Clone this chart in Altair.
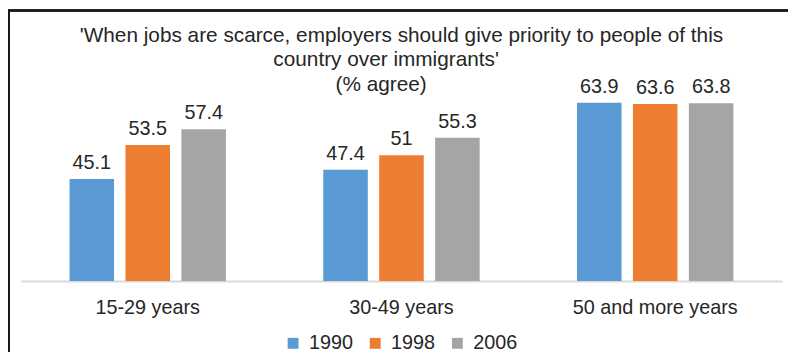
import altair as alt
import pandas as pd

groups = ["15-29 years", "30-49 years", "50 and more years"]
years = ["1990", "1998", "2006"]
values_1990 = [45.1, 47.4, 63.9]
values_1998 = [53.5, 51, 63.6]
values_2006 = [57.4, 55.3, 63.8]
title_line1 = "'When jobs are scarce, employers should give priority to people of this"
title_line2 = "country over immigrants'"
title_line3 = "(% agree)"
colors = ["#5B9BD5", "#ED7D31", "#A5A5A5"]

rows = []
for yr, vals in zip(years, [values_1990, values_1998, values_2006]):
    for g, v in zip(groups, vals):
        rows.append({"group": g, "year": yr, "value": v, "label": f"{v:g}"})
df = pd.DataFrame(rows)

TEXT = "#262626"
FONT = "Liberation Sans"

x = alt.X("group:N", sort=groups,
          scale=alt.Scale(paddingInner=0, paddingOuter=0),
          axis=alt.Axis(title=None, labelAngle=0, ticks=False, domainColor="#d9d9d9",
                        domainWidth=2, labelFontSize=20, labelColor=TEXT, labelFont=FONT,
                        labelPadding=17, grid=False))
xo = alt.XOffset("year:N", sort=years,
                 scale=alt.Scale(paddingInner=0.2035, paddingOuter=0.87))
y = alt.Y("value:Q", scale=alt.Scale(domain=[20, 70], zero=False, nice=False), axis=None)

base = alt.Chart(df)
bars = base.mark_bar().encode(
    x=x, xOffset=xo, y=y, y2=alt.datum(20),
    color=alt.Color("year:N", sort=years, scale=alt.Scale(domain=years, range=colors),
                    legend=alt.Legend(title=None, orient="none", direction="horizontal",
                                      legendX=265, legendY=258, padding=0,
                                      symbolType="square", symbolSize=121, symbolStrokeWidth=0,
                                      labelFontSize=20, labelColor=TEXT, labelFont=FONT,
                                      columnPadding=12, symbolOffset=0, labelOffset=6)),
)
labels = base.mark_text(baseline="alphabetic", dy=-10, fontSize=20, color=TEXT, font=FONT).encode(
    x=x, xOffset=xo, y=y, text="label:N"
)

sub2 = alt.Chart(pd.DataFrame({"t": [title_line2]})).mark_text(
    fontSize=21, color=TEXT, font=FONT, baseline="alphabetic", align="center"
).encode(x=alt.value(369), y=alt.value(-12), text="t:N")
sub3 = alt.Chart(pd.DataFrame({"t": [title_line3]})).mark_text(
    fontSize=21, color=TEXT, font=FONT, baseline="alphabetic", align="center"
).encode(x=alt.value(364), y=alt.value(13.5), text="t:N")

border_left = alt.Chart(df).mark_rule(color="#1a1a1a", strokeWidth=1.5).encode(
    x=alt.value(-12.2), y=alt.value(-68.3), y2=alt.value(300)
)
border_top = alt.Chart(df).mark_rule(color="#1a1a1a", strokeWidth=1.5).encode(
    x=alt.value(-13), x2=alt.value(780), y=alt.value(-68.3)
)

chart = alt.layer(border_left, border_top, bars, labels, sub2, sub3).properties(
    width=769, height=205,
    title=alt.TitleParams(text=title_line1, fontSize=21, fontWeight="normal", color=TEXT,
                          font=FONT, anchor="middle", offset=-37),
    autosize=alt.AutoSizeParams(type="none"),
    padding={"left": 13, "top": 69, "right": 6, "bottom": 70},
).configure_view(stroke=None)

chart.save("out.html", embed_options={"renderer": "svg", "actions": False})
